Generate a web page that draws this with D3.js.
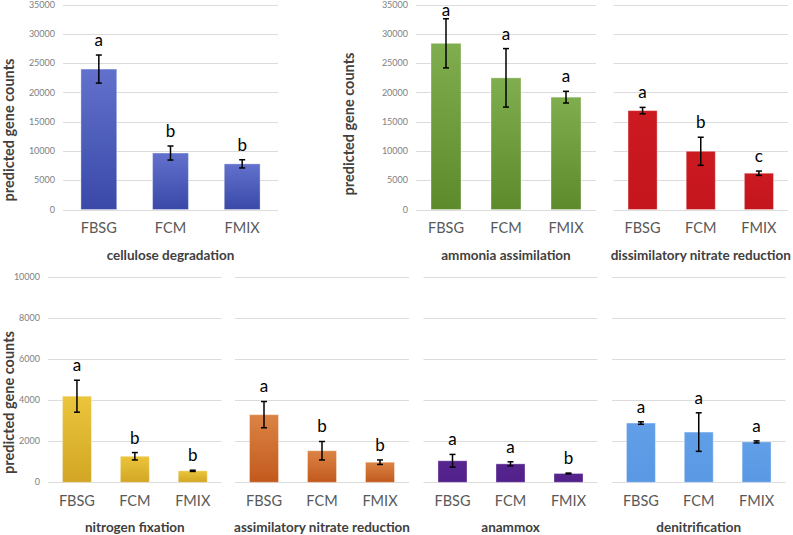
<!DOCTYPE html>
<html><head><meta charset="utf-8">
<script src="https://cdn.jsdelivr.net/npm/d3@7"></script>
<style>body{margin:0;background:#fff} svg{display:block}</style>
</head><body><svg id="c" width="793" height="535"></svg>
<script>
// ---------------- data ----------------
const categories = ["FBSG", "FCM", "FMIX"];
const topTicks = [0, 5000, 10000, 15000, 20000, 25000, 30000, 35000];
const bottomTicks = [0, 2000, 4000, 6000, 8000, 10000];

const celluloseValues = [24000, 9650, 7800];
const celluloseErrors = [2400, 1200, 700];
const celluloseLetters = ["a", "b", "b"];

const ammoniaValues = [28400, 22500, 19200];
const ammoniaErrors = [4200, 5000, 1000];
const ammoniaLetters = ["a", "a", "a"];

const dissimValues = [16900, 9950, 6200];
const dissimErrors = [550, 2400, 370];
const dissimLetters = ["a", "b", "c"];

const nfixValues = [4200, 1270, 560];
const nfixErrors = [780, 180, 30];
const nfixLetters = ["a", "b", "b"];

const assimValues = [3300, 1540, 980];
const assimErrors = [640, 450, 110];
const assimLetters = ["a", "b", "b"];

const anammoxValues = [1050, 900, 430];
const anammoxErrors = [310, 100, 20];
const anammoxLetters = ["a", "a", "b"];

const denitValues = [2890, 2450, 1970];
const denitErrors = [60, 940, 50];
const denitLetters = ["a", "a", "a"];

const panelTitles = ["cellulose degradation", "ammonia assimilation", "dissimilatory nitrate reduction",
  "nitrogen fixation", "assimilatory nitrate reduction", "anammox", "denitrification"];
const yLabel = "predicted gene counts";

// ---------------- layout / style ----------------
const FONT = "Lato, 'Open Sans', 'DejaVu Sans', sans-serif";
const svg = d3.select("#c");
const defs = svg.append("defs");

const rows = {
  top: { range: [209.5, 4.7], domain: [0, 35000], ticks: topTicks, catY: 228, titleY: 255 },
  bottom: { range: [482.3, 277.3], domain: [0, 10000], ticks: bottomTicks, catY: 501, titleY: 527.5 }
};

const panels = [
  { row: "top", x: [63, 278], values: celluloseValues, errors: celluloseErrors, letters: celluloseLetters,
    title: panelTitles[0], axis: { x: 55, labelX: 13.5, labelY: 130 }, colors: ["#6171cc", "#3a49a8"] },
  { row: "top", x: [416, 596], values: ammoniaValues, errors: ammoniaErrors, letters: ammoniaLetters,
    title: panelTitles[1], axis: { x: 408, labelX: 354, labelY: 124 }, colors: ["#80ad4e", "#5d8b2c"] },
  { row: "top", x: [613.5, 788], values: dissimValues, errors: dissimErrors, letters: dissimLetters,
    title: panelTitles[2], colors: ["#cc1a21", "#c4151c"] },
  { row: "bottom", x: [48, 221.7], values: nfixValues, errors: nfixErrors, letters: nfixLetters,
    title: panelTitles[3], axis: { x: 40, labelX: 13.5, labelY: 402.5 }, colors: ["#ebc53c", "#d2a624"] },
  { row: "bottom", x: [235, 409], values: assimValues, errors: assimErrors, letters: assimLetters,
    title: panelTitles[4], colors: ["#db8445", "#c2591d"] },
  { row: "bottom", x: [423.5, 597.5], values: anammoxValues, errors: anammoxErrors, letters: anammoxLetters,
    title: panelTitles[5], colors: ["#56258e", "#52208a"] },
  { row: "bottom", x: [612, 785.5], values: denitValues, errors: denitErrors, letters: denitLetters,
    title: panelTitles[6], colors: ["#629fe8", "#5a98e4"] }
];

panels.forEach((p, i) => {
  const r = rows[p.row];
  const y = d3.scaleLinear().domain(r.domain).range(r.range);
  const x = d3.scaleBand().domain(categories).range(p.x).paddingInner(0.5).paddingOuter(0.25);
  const g = svg.append("g");

  const gid = "grad" + i;
  const grad = defs.append("linearGradient").attr("id", gid).attr("x1", 0).attr("y1", 0).attr("x2", 0).attr("y2", 1);
  grad.append("stop").attr("offset", "0%").attr("stop-color", p.colors[0]);
  grad.append("stop").attr("offset", "100%").attr("stop-color", p.colors[1]);

  // gridlines
  g.selectAll("line.grid").data(r.ticks).join("line")
    .attr("x1", p.x[0]).attr("x2", p.x[1])
    .attr("y1", d => Math.round(y(d)) + 0.5).attr("y2", d => Math.round(y(d)) + 0.5)
    .attr("stroke", "#dcdcdc").attr("stroke-width", 1);

  // tick labels
  if (p.axis) {
    g.selectAll("text.tick").data(r.ticks).join("text")
      .attr("x", p.axis.x).attr("y", d => y(d)).attr("dy", "0.35em")
      .attr("text-anchor", "end").attr("font-family", FONT).attr("font-size", 9)
      .attr("fill", "#808080").text(d => d);
    g.append("text")
      .attr("transform", `translate(${p.axis.labelX},${p.axis.labelY}) rotate(-90)`)
      .attr("text-anchor", "middle").attr("font-family", FONT).attr("font-weight", "bold")
      .attr("font-size", 14.5).attr("fill", "#404040").text(yLabel);
  }

  const data = categories.map((c, k) => ({ c, v: p.values[k], e: p.errors[k], l: p.letters[k] }));

  // bars
  g.selectAll("rect.bar").data(data).join("rect")
    .attr("x", d => x(d.c)).attr("width", x.bandwidth())
    .attr("y", d => y(d.v)).attr("height", d => y(0) - y(d.v))
    .attr("fill", `url(#${gid})`)
    .attr("stroke", "#ffffff").attr("stroke-opacity", 0.35).attr("stroke-width", 1);

  // error bars
  const cap = 3;
  data.forEach(d => {
    const cx = x(d.c) + x.bandwidth() / 2;
    const y1 = y(d.v + d.e), y2 = y(d.v - d.e);
    g.append("line").attr("x1", cx).attr("x2", cx).attr("y1", y1).attr("y2", y2)
      .attr("stroke", "#000").attr("stroke-width", 1.5);
    [y1, y2].forEach(yy => g.append("line").attr("x1", cx - cap).attr("x2", cx + cap)
      .attr("y1", yy).attr("y2", yy).attr("stroke", "#000").attr("stroke-width", 1.5));
    g.append("text").attr("x", cx).attr("y", Math.max(y1 - 15, 10)).attr("dy", "0.35em")
      .attr("text-anchor", "middle").attr("font-family", FONT).attr("font-size", 17)
      .attr("fill", "#000").text(d.l);
  });

  // category labels
  g.selectAll("text.cat").data(categories).join("text")
    .attr("x", d => x(d) + x.bandwidth() / 2).attr("y", r.catY).attr("dy", "0.35em")
    .attr("text-anchor", "middle").attr("font-family", FONT).attr("font-size", 14.5)
    .attr("fill", "#595959").text(d => d);

  // title
  g.append("text").attr("x", (p.x[0] + p.x[1]) / 2).attr("y", r.titleY).attr("dy", "0.35em")
    .attr("text-anchor", "middle").attr("font-family", FONT).attr("font-weight", "bold")
    .attr("font-size", 13.5).attr("fill", "#404040").text(p.title);
});
</script>
</body></html>
